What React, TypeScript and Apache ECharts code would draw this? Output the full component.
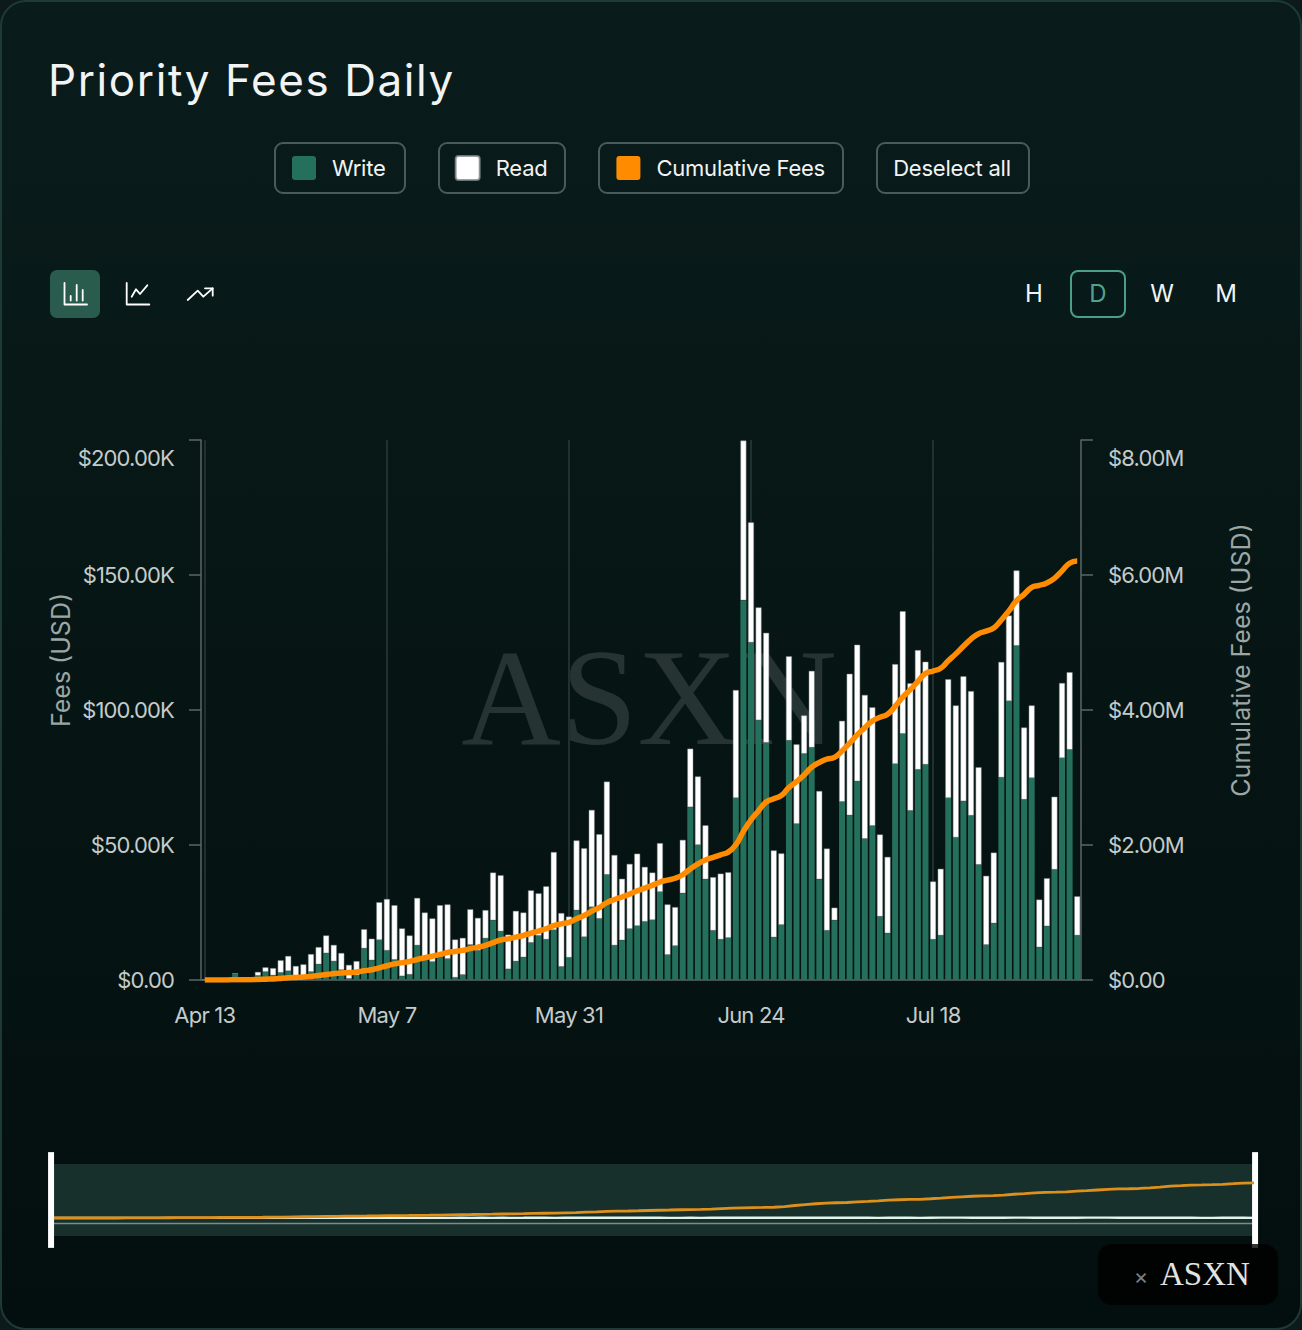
import React, { useEffect, useRef } from "react";
import * as echarts from "echarts";

const categories = [
  "Apr 13","Apr 14","Apr 15","Apr 16","Apr 17","Apr 18","Apr 19","Apr 20","Apr 21","Apr 22","Apr 23","Apr 24","Apr 25","Apr 26","Apr 27","Apr 28","Apr 29","Apr 30",
  "May 1","May 2","May 3","May 4","May 5","May 6","May 7","May 8","May 9","May 10","May 11","May 12","May 13","May 14","May 15","May 16","May 17","May 18","May 19","May 20","May 21","May 22","May 23","May 24","May 25","May 26","May 27","May 28","May 29","May 30","May 31",
  "Jun 1","Jun 2","Jun 3","Jun 4","Jun 5","Jun 6","Jun 7","Jun 8","Jun 9","Jun 10","Jun 11","Jun 12","Jun 13","Jun 14","Jun 15","Jun 16","Jun 17","Jun 18","Jun 19","Jun 20","Jun 21","Jun 22","Jun 23","Jun 24","Jun 25","Jun 26","Jun 27","Jun 28","Jun 29","Jun 30",
  "Jul 1","Jul 2","Jul 3","Jul 4","Jul 5","Jul 6","Jul 7","Jul 8","Jul 9","Jul 10","Jul 11","Jul 12","Jul 13","Jul 14","Jul 15","Jul 16","Jul 17","Jul 18","Jul 19","Jul 20","Jul 21","Jul 22","Jul 23","Jul 24","Jul 25","Jul 26","Jul 27","Jul 28","Jul 29","Jul 30","Jul 31",
  "Aug 1","Aug 2","Aug 3","Aug 4","Aug 5","Aug 6",
];

// $K per day
const writeFees = [
  0.1,0.1,0.2,0.2,2.4,0.3,0.4,1.6,3,1.7,2.7,3.3,1.2,1.2,3,5.8,9.9,6.9,3.7,0.5,1.7,11.7,7.3,14.8,10.9,7.5,1.4,2,12.8,7.4,6.7,8.6,7.8,0.9,1.9,13,10.9,15.4,22.1,18,
  4,6.9,8.4,13.8,16.4,15,18.5,4.9,8.3,25.8,15.9,27,22.7,39,12.8,14.7,18.9,20,21.6,22.2,32.6,9.3,12.6,32.1,64,50,37.3,18.3,15,15.6,67.4,140.6,125,96.2,87.9,15.8,20.4,88.7,57.8,83.8,
  86.1,37.3,18.3,22.1,66,61,73.6,52.3,57.1,23.5,17.3,80,91.2,62.7,77.9,79.8,15,16.5,67.4,52.8,66.2,60.9,42.7,13,21,75,103.3,123.8,66.8,74.8,12.1,19.9,40.9,82.2,85.3,16.5,
];
const readFees = [
  0,0.1,0.1,0.1,0,0.2,0.3,1.4,1.7,2.7,4.6,5.6,4,4.6,6.6,6.4,6.6,6.1,6.3,5.1,5.3,7.1,8,14,19.1,20.2,17.7,14.5,17.6,17.6,16.1,19.1,20.2,14.1,13.7,13.2,12.1,10.5,17.7,20.8,
  12.8,18.7,16.6,19.4,15.7,19.7,28.9,19.9,15.2,25.9,32.9,36,31.3,34.5,33.5,22.8,24.1,26.8,20.3,17.6,18.1,18.7,14.4,19.8,21.7,25.4,20,19.8,24.4,24.3,40,59.2,44.5,41.8,40.7,32.2,26.5,31.2,29.5,14.2,
  28.4,32.7,30.4,4.7,30,52.4,50.6,53.3,43.9,30.4,28.3,37,45.4,47.2,44.3,38.1,21.5,24.7,44,48.9,46.3,46.1,36.1,25.6,26.2,42.8,31.7,27.9,26.7,26.9,17.7,17.8,27,27.8,28.7,14.5,
];
const cumulativeFees = [
  0.1,0.3,0.6,0.9,3.3,3.8,4.5,7.5,12.2,16.6,23.9,32.8,38,43.8,53.4,65.6,82.1,95.1,105.1,110.7,117.7,136.5,151.8,180.6,210.6,238.3,257.4,273.9,304.3,329.3,352.1,379.8,407.8,422.8,438.4,464.6,487.6,513.5,553.3,592.1,
  608.9,634.5,659.5,692.7,724.8,759.5,806.9,831.7,855.2,906.9,955.7,1018.7,1072.7,1146.2,1192.5,1230,1273,1319.8,1361.7,1401.5,1452.2,1480.2,1507.2,1559.1,1644.8,1720.2,1777.5,1815.6,1855,1894.9,2002.3,2201.3,2370.8,2508.8,2637.4,2685.4,2732.3,2852.2,2939.5,3037.5,
  3152,3222,3270.7,3297.5,3393.5,3506.9,3631.1,3736.7,3837.7,3891.6,3937.2,4054.2,4190.8,4300.7,4422.9,4540.8,4577.3,4618.5,4729.9,4831.6,4944.1,5051.1,5129.9,5168.5,5215.7,5333.5,5468.5,5620.2,5713.7,5815.4,5845.2,5882.9,5950.8,6060.8,6174.8,6205.8,
];

const leftTicks = { max: 200, step: 50 };
const rightTicks = { max: 8000, step: 2000 };
const intervalButtons = ["H", "D", "W", "M"];
const UI = "Inter, 'Noto Sans', sans-serif";
const SERIF = "'Liberation Serif', 'DejaVu Serif', serif";
const INK = "#f2f4f4";
const MUTED = "#c4cbca";
const EDGE = "#4c5b59";
const SWATCH = "path://M3 0H21A3 3 0 0 1 24 3V21A3 3 0 0 1 21 24H3A3 3 0 0 1 0 21V3A3 3 0 0 1 3 0Z";

const outlined = (x: number, y: number, width: number, height: number, stroke: string, r: number, fill = "transparent", lineWidth = 2) => ({
  type: "rect", shape: { x, y, width, height, r }, style: { fill, stroke, lineWidth }, silent: true,
});
const label = (x: number, y: number, text: string, fill = INK, fontSize = 22, align = "center", fontFamily = UI) => ({
  type: "text", x, y, style: { text, fill, fontSize, fontFamily, align, verticalAlign: "middle" }, silent: true,
});
const stroke = (points: number[][]) => ({
  type: "polyline", shape: { points }, style: { stroke: "#ffffff", lineWidth: 1.8, fill: "none", lineCap: "round", lineJoin: "round" }, silent: true,
});

const tracking = (t: string) => {
  if (t === "Priority Fees Daily") return 1.6;
  if (t.startsWith("$")) return -0.85;
  if (categories.includes(t)) return -0.8;
  if (t === "Write" || t === "Read" || t === "Cumulative Fees" || t === "Deselect all") return -0.22;
  return 0;
};

export default function App() {
  const ref = useRef<HTMLDivElement>(null);
  useEffect(() => {
    document.body.style.margin = "0";
    document.body.style.background = "#0c1a1c";
    const chart = echarts.init(ref.current!, null, { renderer: "svg" });
    const applyTracking = () => {
      ref.current?.querySelectorAll("text").forEach((el) => {
        const s = tracking(el.textContent || "");
        if (s) (el as SVGTextElement).style.letterSpacing = `${s}px`;
      });
    };
    chart.on("rendered", applyTracking);
    chart.setOption({
      animation: false,
      backgroundColor: "transparent",
      textStyle: { fontFamily: UI },
      title: {
        text: "Priority Fees Daily", left: 48, top: 58, padding: 0,
        textStyle: { color: INK, fontSize: 44, fontWeight: 400, fontFamily: UI },
      },
      legend: {
        left: 292, top: 155, padding: 0, itemWidth: 24, itemHeight: 24, itemGap: 68, icon: SWATCH,
        data: ["Write", "Read", "Cumulative Fees"],
        textStyle: { color: INK, fontSize: 22, fontFamily: UI, padding: [0, 0, 0, 11] },
        selectedMode: false,
      },
      grid: [
        { left: 201, top: 440, width: 880, height: 540, containLabel: false },
        { left: 54, top: 1164, width: 1200, height: 72, show: true, backgroundColor: "#17302c", borderWidth: 0 },
      ],
      xAxis: [
        {
          type: "category", gridIndex: 0, data: categories,
          axisLine: { lineStyle: { color: "#5b6766", width: 1.5 } },
          axisTick: { show: false, alignWithLabel: true, interval: 23 },
          axisLabel: { interval: 23, color: MUTED, fontSize: 22, margin: 24, fontFamily: UI },
          splitLine: { show: true, interval: 23, alignWithLabel: true, lineStyle: { color: "#2b3a3a", width: 1.5 } },
        },
        {
          type: "category", gridIndex: 1, data: categories, boundaryGap: false, offset: -13,
          axisLine: { onZero: false, lineStyle: { color: "#7f8b88", width: 1.4 } },
          axisTick: { show: false }, axisLabel: { show: false }, splitLine: { show: false },
        },
      ],
      yAxis: [
        {
          type: "value", gridIndex: 0, min: 0, max: leftTicks.max, interval: leftTicks.step, position: "left",
          name: "Fees (USD)", nameLocation: "middle", nameGap: 128, nameRotate: 90, nameMoveOverlap: false,
          nameTextStyle: { color: "#9ca6a5", fontSize: 25, fontFamily: UI, padding: [0, 0, 0, 100] },
          axisLine: { show: true, lineStyle: { color: "#5b6766", width: 1.5 } },
          axisTick: { show: true, length: 12, lineStyle: { color: "#5b6766", width: 1.5 } },
          axisLabel: {
            color: MUTED, fontSize: 22, margin: 27, fontFamily: UI, lineHeight: 36, verticalAlignMaxLabel: "top",
            formatter: (v: number) => (v === 0 ? "$0.00" : `$${v.toFixed(2)}K`),
          },
          splitLine: { show: false },
        },
        {
          type: "value", gridIndex: 0, min: 0, max: rightTicks.max, interval: rightTicks.step, position: "right",
          name: "Cumulative Fees (USD)", nameLocation: "middle", nameGap: 147, nameRotate: 90, nameMoveOverlap: false,
          nameTextStyle: { color: "#9ca6a5", fontSize: 25, fontFamily: UI, padding: [0, 0, 0, 100] },
          axisLine: { show: true, lineStyle: { color: "#5b6766", width: 1.5 } },
          axisTick: { show: true, length: 12, lineStyle: { color: "#5b6766", width: 1.5 } },
          axisLabel: {
            color: MUTED, fontSize: 22, margin: 27, fontFamily: UI, lineHeight: 36, verticalAlignMaxLabel: "top",
            formatter: (v: number) => (v === 0 ? "$0.00" : `$${(v / 1000).toFixed(2)}M`),
          },
          splitLine: { show: false },
        },
        {
          type: "value", gridIndex: 1, min: -3200, max: 9550, show: false, splitLine: { show: false },
        },
      ],
      dataZoom: [
        {
          type: "slider", xAxisIndex: 0, start: 0, end: 100, left: 50, width: 1206, top: 1164, height: 72,
          backgroundColor: "transparent", borderColor: "transparent", fillerColor: "transparent",
          showDataShadow: false, showDetail: false, brushSelect: false, moveHandleSize: 0,
          handleIcon: "path://M0 0H6V96H0Z", handleSize: "133%",
          handleStyle: { color: "#ffffff", borderColor: "transparent", borderWidth: 0 },
          emphasis: { handleStyle: { color: "#ffffff", borderColor: "transparent" } },
        },
      ],
      series: [
        {
          name: "Write", type: "bar", stack: "fees", xAxisIndex: 0, yAxisIndex: 0, data: writeFees, barWidth: 6,
          itemStyle: { color: "#25705c" },
        },
        {
          name: "Read", type: "bar", stack: "fees", xAxisIndex: 0, yAxisIndex: 0, data: readFees, barWidth: 6,
          itemStyle: { color: "#ffffff", borderColor: "rgba(130,140,140,0.8)", borderWidth: 0.6 },
        },
        {
          name: "Cumulative Fees", type: "line", xAxisIndex: 0, yAxisIndex: 1, data: cumulativeFees, smooth: 0.5,
          showSymbol: false, z: 5, lineStyle: { color: "#ff8c00", width: 5.5 }, itemStyle: { color: "#ff8c00" },
        },
        {
          name: "Read overview", type: "line", xAxisIndex: 1, yAxisIndex: 2, data: readFees, showSymbol: false,
          lineStyle: { color: "#e4f3ec", width: 2.4 }, itemStyle: { color: "#e4f3ec" }, z: 3, silent: true,
        },
        {
          name: "Cumulative overview", type: "line", xAxisIndex: 1, yAxisIndex: 2, data: cumulativeFees, showSymbol: false,
          lineStyle: { color: "#dd901c", width: 2.8 }, itemStyle: { color: "#dd901c" }, z: 4, silent: true,
        },
      ],
      graphic: [
        { type: "text", x: 649, y: 697, z: 0, silent: true, style: { text: "ASXN", fill: "rgba(255,255,255,0.13)", fontSize: 138, fontFamily: SERIF, align: "center", verticalAlign: "middle" } },
        outlined(275, 143, 130, 50, EDGE, 8),
        outlined(439, 143, 126, 50, EDGE, 8),
        outlined(599, 143, 244, 50, EDGE, 8),
        outlined(877, 143, 152, 50, EDGE, 8),
        label(952, 168, "Deselect all"),
        { type: "rect", shape: { x: 50, y: 270, width: 50, height: 48, r: 7 }, style: { fill: "#2a5c4e" }, silent: true },
        { type: "group", children: [
          stroke([[64.5, 283], [64.5, 304.5], [87, 304.5]]),
          stroke([[70.7, 296], [70.7, 300.5]]),
          stroke([[76.7, 285], [76.7, 300.5]]),
          stroke([[82.7, 290], [82.7, 300.5]]),
          stroke([[126.7, 283], [126.7, 304.5], [149.3, 304.5]]),
          stroke([[131.7, 296.7], [136, 289.3], [140, 294], [147.3, 285.3]]),
          stroke([[187.7, 300], [197.7, 290.7], [203.3, 296.7], [212.7, 288.3]]),
          stroke([[205, 288.3], [212.7, 288.3], [212.7, 295.7]]),
        ] },
        outlined(1071, 271, 54, 46, "#4b9e8a", 7),
        ...intervalButtons.map((t, i) => label(1034 + 64 * i, 293, t, t === "D" ? "#4fa38e" : INK, 24)),
        { type: "rect", z: 100, shape: { x: 1098, y: 1244, width: 180, height: 61, r: 14 }, style: { fill: "rgba(0,0,0,0.8)" }, silent: true },
        { ...label(1141, 1276, "×", "#7b8080", 22), z: 101 },
        { ...label(1160, 1274, "ASXN", "#e2e4e4", 33, "left", SERIF), z: 101 },
      ],
    });
    applyTracking();
    return () => chart.dispose();
  }, []);
  return (
    <div style={{
      position: "relative", width: 1302, height: 1330, boxSizing: "border-box", borderRadius: 26,
      border: "2px solid #1d3a37", background: "linear-gradient(180deg,#091c1b 0%,#030f0e 100%)", overflow: "hidden",
    }}>
      <div ref={ref} style={{ position: "absolute", left: -2, top: -2, width: 1302, height: 1330 }} />
    </div>
  );
}
